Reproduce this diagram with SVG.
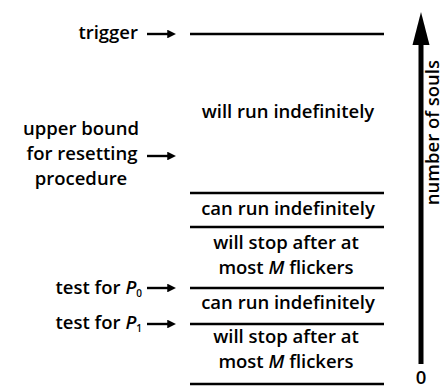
<svg xmlns="http://www.w3.org/2000/svg" width="444" height="388" viewBox="0 0 444 388">
<defs>
<style>
text{font-family:"Open Sans","Liberation Sans",sans-serif;font-weight:600;font-size:18.5px;fill:#000}
.c{text-anchor:middle}
.r{text-anchor:end}
.lvl{stroke:#000;stroke-width:2.6;fill:none}
.arr{stroke:#000;stroke-width:2.4;fill:none;marker-end:url(#ah)}
</style>
<marker id="ah" viewBox="0 0 10 10" refX="2" refY="5" markerWidth="3.6" markerHeight="3.6" orient="auto" markerUnits="strokeWidth">
<path d="M0,0 L10,5 L0,10 Z" fill="#000"/>
</marker>
</defs>
<rect width="444" height="388" fill="#fff"/>
<g id="connectors">
<line class="arr" x1="147" y1="34" x2="169" y2="34"/>
<line class="arr" x1="147" y1="156" x2="169" y2="156"/>
<line class="arr" x1="147" y1="288" x2="169" y2="288"/>
<line class="arr" x1="147" y1="324" x2="169" y2="324"/>
</g>
<g id="levels">
<line class="lvl" x1="190" y1="34" x2="384" y2="34"/>
<line class="lvl" x1="190" y1="193" x2="384" y2="193"/>
<line class="lvl" x1="190" y1="227" x2="384" y2="227"/>
<line class="lvl" x1="190" y1="288" x2="384" y2="288"/>
<line class="lvl" x1="190" y1="324" x2="384" y2="324"/>
<line class="lvl" x1="190" y1="384" x2="384" y2="384"/>
</g>
<g id="trigger"><text class="r" x="138" y="39">trigger</text></g>
<g id="upper-bound">
<text class="c" y="135"><tspan x="81">upper bound</tspan><tspan x="82" dy="25">for resetting</tspan><tspan x="81" dy="25">procedure</tspan></text>
</g>
<g id="test-p0"><text class="r" x="142" y="294">test for <tspan font-style="italic">P</tspan><tspan font-size="10" dy="3">0</tspan></text></g>
<g id="test-p1"><text class="r" x="142" y="329">test for <tspan font-style="italic">P</tspan><tspan font-size="10" dy="3">1</tspan></text></g>
<g id="band-1"><text class="c" x="288" y="118">will run indefinitely</text></g>
<g id="band-2"><text class="c" x="288" y="215">can run indefinitely</text></g>
<g id="band-3">
<text class="c" y="249"><tspan x="286">will stop after at</tspan><tspan x="286" dy="25">most <tspan font-style="italic">M</tspan> flickers</tspan></text>
</g>
<g id="band-4"><text class="c" x="288" y="309">can run indefinitely</text></g>
<g id="band-5">
<text class="c" y="343"><tspan x="286">will stop after at</tspan><tspan x="286" dy="25">most <tspan font-style="italic">M</tspan> flickers</tspan></text>
</g>
<g id="axis">
<line x1="421" y1="364" x2="421" y2="40" stroke="#000" stroke-width="5"/>
<path d="M421,12 L429.5,45 L412.5,45 Z" fill="#000"/>
<text class="c" x="421" y="384" font-size="16">0</text>
<text class="r" transform="translate(439,60) rotate(-90)">number of souls</text>
</g>
</svg>
